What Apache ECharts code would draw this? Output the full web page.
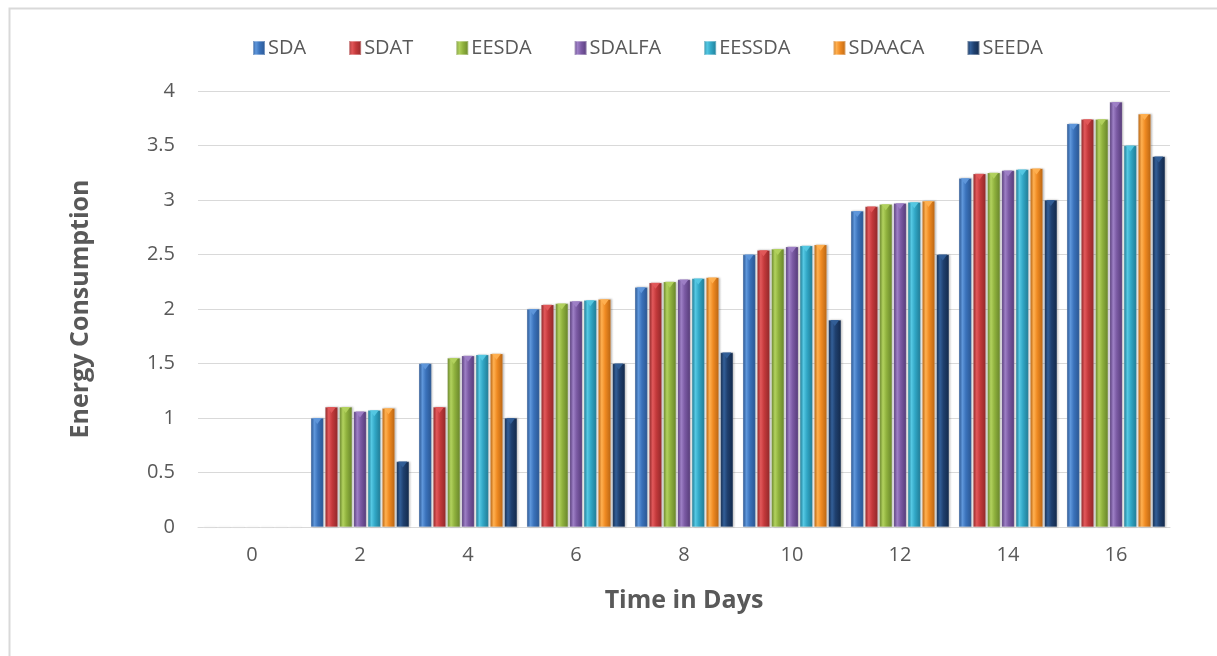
<!DOCTYPE html>
<html>
<head>
<meta charset="utf-8">
<script src="https://cdn.jsdelivr.net/npm/echarts@6/dist/echarts.min.js"></script>
<style>
  html, body { margin: 0; padding: 0; background: #ffffff; }
  #chart { width: 1217px; height: 656px; }
</style>
</head>
<body>
<div id="chart"></div>
<script>
// Energy consumption per scheme over time
const days = ['0', '2', '4', '6', '8', '10', '12', '14', '16'];
const yTicks = [0, 0.5, 1, 1.5, 2, 2.5, 3, 3.5, 4];

const SDA    = [0, 1.00, 1.50, 2.00, 2.20, 2.50, 2.90, 3.20, 3.70];
const SDAT   = [0, 1.10, 1.10, 2.04, 2.24, 2.54, 2.94, 3.24, 3.74];
const EESDA  = [0, 1.10, 1.55, 2.05, 2.25, 2.55, 2.96, 3.25, 3.74];
const SDALFA = [0, 1.06, 1.57, 2.07, 2.27, 2.57, 2.97, 3.27, 3.90];
const EESSDA = [0, 1.07, 1.58, 2.08, 2.28, 2.58, 2.98, 3.28, 3.50];
const SDAACA = [0, 1.09, 1.59, 2.09, 2.29, 2.59, 2.99, 3.29, 3.79];
const SEEDA  = [0, 0.60, 1.00, 1.50, 1.60, 1.90, 2.50, 3.00, 3.40];

const seriesList = [
  { name: 'SDA',    data: SDA,    dark: '#2a5590', light: '#5f97db', base: '#3a72bb' },
  { name: 'SDAT',   data: SDAT,   dark: '#8f2829', light: '#e2585a', base: '#c4393b' },
  { name: 'EESDA',  data: EESDA,  dark: '#67842a', light: '#b2d25e', base: '#90b23e' },
  { name: 'SDALFA', data: SDALFA, dark: '#553b78', light: '#9e80c6', base: '#7b5aa4' },
  { name: 'EESSDA', data: EESSDA, dark: '#1f7a93', light: '#55c8e3', base: '#31a7c6' },
  { name: 'SDAACA', data: SDAACA, dark: '#b96512', light: '#ffb050', base: '#ef8a22' },
  { name: 'SEEDA',  data: SEEDA,  dark: '#13294a', light: '#335f98', base: '#1f406f' }
];

const FONT = '"Open Sans", "Liberation Sans", sans-serif';
const TEXT = '#595959';
const GRID = '#d9d9d9';

function cylinder(s) {
  return {
    type: 'linear', x: 0, y: 0, x2: 1, y2: 0,
    colorStops: [
      { offset: 0,    color: s.dark },
      { offset: 0.28, color: s.light },
      { offset: 0.55, color: s.base },
      { offset: 1,    color: s.dark }
    ]
  };
}

const bars = seriesList.map(s => ({
  name: s.name,
  type: 'bar',
  data: s.data,
  barCategoryGap: '9%',
  barGap: '12%',
  itemStyle: {
    color: cylinder(s),
    borderColor: 'rgba(255,255,255,0.35)',
    borderWidth: 0.5,
    shadowColor: 'rgba(0,0,0,0.25)',
    shadowBlur: 2,
    shadowOffsetX: 1
  },
  z: 2
}));

// small bevelled caps on top of each bar
const caps = seriesList.map(s => ({
  name: s.name,
  type: 'pictorialBar',
  data: s.data.map(v => (v > 0 ? v : '-')),
  barCategoryGap: '9%',
  barGap: '12%',
  symbol: 'path://M0,0 L10,0 L5,6 Z',
  symbolSize: [9, 6],
  symbolPosition: 'end',
  symbolOffset: [0, 0],
  itemStyle: { color: s.light, opacity: 0.95 },
  silent: true,
  z: 3
}));

const chart = echarts.init(document.getElementById('chart'));
chart.setOption({
  animation: false,
  backgroundColor: '#ffffff',
  graphic: [{
    type: 'rect',
    left: 7, top: 6,
    shape: { width: 1230, height: 670 },
    style: { fill: 'none', stroke: '#d9d9d9', lineWidth: 2 },
    silent: true,
    z: -1
  }],
  legend: {
    data: seriesList.map(s => ({ name: s.name, itemStyle: { color: cylinder(s) } })),
    left: 247, top: 33,
    icon: 'rect',
    itemWidth: 12, itemHeight: 14,
    itemGap: 42,
    textStyle: { fontFamily: FONT, fontSize: 20, color: TEXT, padding: [0, 0, 0, -2] }
  },
  grid: { left: 198, right: 47, top: 91, bottom: 129, containLabel: false },
  xAxis: {
    type: 'category',
    data: days,
    name: 'Time in Days',
    nameLocation: 'middle',
    nameGap: 61,
    nameTextStyle: { fontFamily: FONT, fontSize: 25, fontWeight: 'bold', color: TEXT },
    axisLine: { lineStyle: { color: GRID, width: 1 } },
    axisTick: { show: false },
    axisLabel: { fontFamily: FONT, fontSize: 20, color: TEXT, margin: 18 }
  },
  yAxis: {
    type: 'value',
    min: yTicks[0],
    max: yTicks[yTicks.length - 1],
    interval: 0.5,
    name: 'Energy Consumption',
    nameLocation: 'middle',
    nameGap: 105,
    nameTextStyle: { fontFamily: FONT, fontSize: 25, fontWeight: 'bold', color: TEXT },
    axisLine: { show: false },
    axisTick: { show: false },
    splitLine: { lineStyle: { color: GRID, width: 1 } },
    axisLabel: { fontFamily: FONT, fontSize: 20, color: TEXT, margin: 23 }
  },
  series: bars.concat(caps)
});
</script>
</body>
</html>
